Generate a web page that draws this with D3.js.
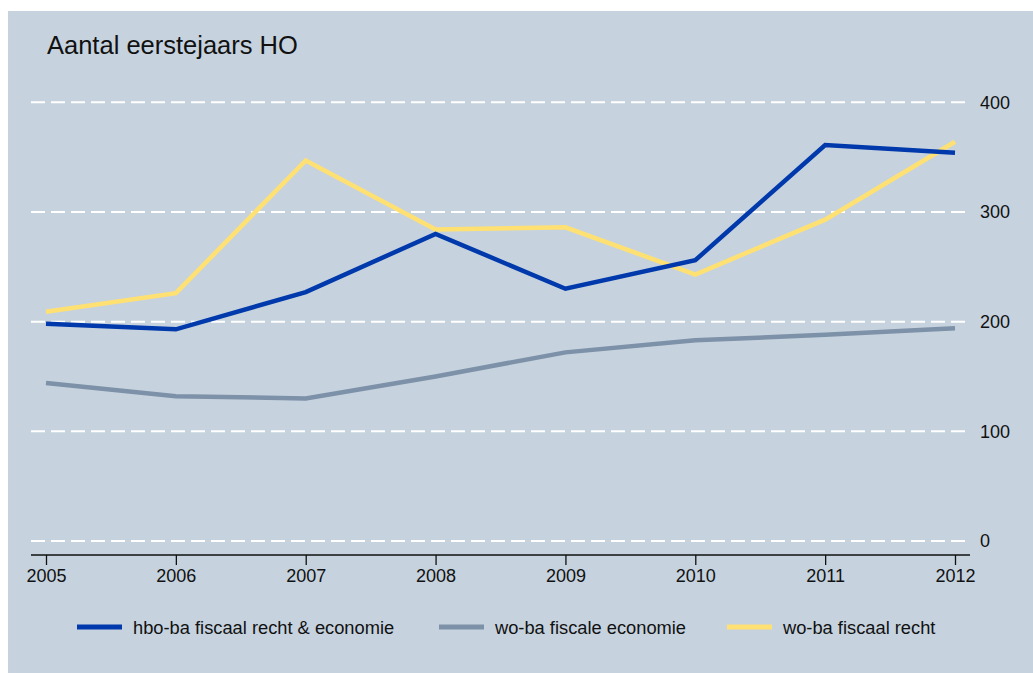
<!DOCTYPE html>
<html>
<head>
<meta charset="utf-8">
<script src="https://cdn.jsdelivr.net/npm/d3@7"></script>
<style>
  body { margin: 0; background: #ffffff; }
  text { font-family: "Liberation Sans", Arial, sans-serif; fill: #111; }
</style>
</head>
<body>
<div id="chart"></div>
<script>
// data
var years = [2005, 2006, 2007, 2008, 2009, 2010, 2011, 2012];
var hboFiscaal = [198, 193, 227, 280, 230, 256, 361, 354];
var woEconomie = [144, 132, 130, 150, 172, 183, 188, 194];
var woRecht = [209, 226, 347, 284, 286, 243, 293, 364];
var yTicks = [0, 100, 200, 300, 400];
var seriesNames = ["hbo-ba fiscaal recht & economie", "wo-ba fiscale economie", "wo-ba fiscaal recht"];

var width = 1033, height = 673;

var series = [
    { name: seriesNames[1], values: woEconomie, color: "#7d91a8" },
    { name: seriesNames[2], values: woRecht, color: "#ffe072" },
    { name: seriesNames[0], values: hboFiscaal, color: "#0039ab" }
];

var svg = d3.select("#chart")
    .append("svg")
    .attr("width", width)
    .attr("height", height);

// panel background
svg.append("rect")
    .attr("x", 8)
    .attr("y", 11)
    .attr("width", width - 8)
    .attr("height", height - 11)
    .attr("fill", "#c6d3df");

var x = d3.scaleLinear().domain([2005, 2012]).range([46, 955]);
var y = d3.scaleLinear().domain([0, 400]).range([541, 102.3]);

// gridlines
svg.selectAll(".grid")
    .data(yTicks)
    .join("line")
    .attr("class", "grid")
    .attr("x1", 31)
    .attr("x2", 968)
    .attr("y1", function (d) { return y(d) })
    .attr("y2", function (d) { return y(d) })
    .attr("stroke", "#ffffff")
    .attr("stroke-width", 2)
    .style("stroke-dasharray", "14, 6");

// y labels on the right
svg.selectAll(".ylab")
    .data(yTicks)
    .join("text")
    .attr("class", "ylab")
    .attr("x", 980)
    .attr("y", function (d) { return y(d) })
    .attr("dy", "0.36em")
    .style("font-size", "18px")
    .text(function (d) { return d });

// x axis
var xAxis = d3.axisBottom(x)
    .tickValues(years)
    .tickFormat(d3.format("d"))
    .tickSize(10)
    .tickSizeOuter(0);

var gx = svg.append("g")
    .attr("transform", "translate(0,555)")
    .call(xAxis);
gx.select(".domain").remove();
gx.append("line")
    .attr("x1", 31)
    .attr("x2", 970)
    .attr("stroke", "#111")
    .attr("stroke-width", 1.3);
gx.selectAll(".tick line").attr("stroke", "#111").attr("stroke-width", 1.3);
gx.selectAll(".tick text")
    .attr("y", 14)
    .attr("fill", "#111")
    .style("font-family", "Liberation Sans, Arial, sans-serif")
    .style("font-size", "18px");

// lines
var line = d3.line()
    .x(function (d, i) { return x(years[i]) })
    .y(function (d) { return y(d) });

svg.selectAll(".series")
    .data(series)
    .join("path")
    .attr("class", "series")
    .attr("d", function (d) { return line(d.values) })
    .attr("fill", "none")
    .attr("stroke", function (d) { return d.color })
    .attr("stroke-width", 4.5)
    .attr("stroke-linejoin", "miter");

// title
svg.append("text")
    .attr("x", 47)
    .attr("y", 54)
    .style("font-size", "25.5px")
    .text("Aantal eerstejaars HO");

// legend
var legendItems = [
    { name: seriesNames[0], color: "#0039ab", x: 77 },
    { name: seriesNames[1], color: "#7d91a8", x: 439 },
    { name: seriesNames[2], color: "#ffe072", x: 727 }
];
var legend = svg.selectAll(".legend")
    .data(legendItems)
    .join("g")
    .attr("class", "legend")
    .attr("transform", function (d) { return "translate(" + d.x + ",627)" });
legend.append("line")
    .attr("x1", 0)
    .attr("x2", 45)
    .attr("stroke", function (d) { return d.color })
    .attr("stroke-width", 5);
legend.append("text")
    .attr("x", 56)
    .attr("dy", "0.36em")
    .style("font-size", "18.3px")
    .text(function (d) { return d.name });
</script>
</body>
</html>
